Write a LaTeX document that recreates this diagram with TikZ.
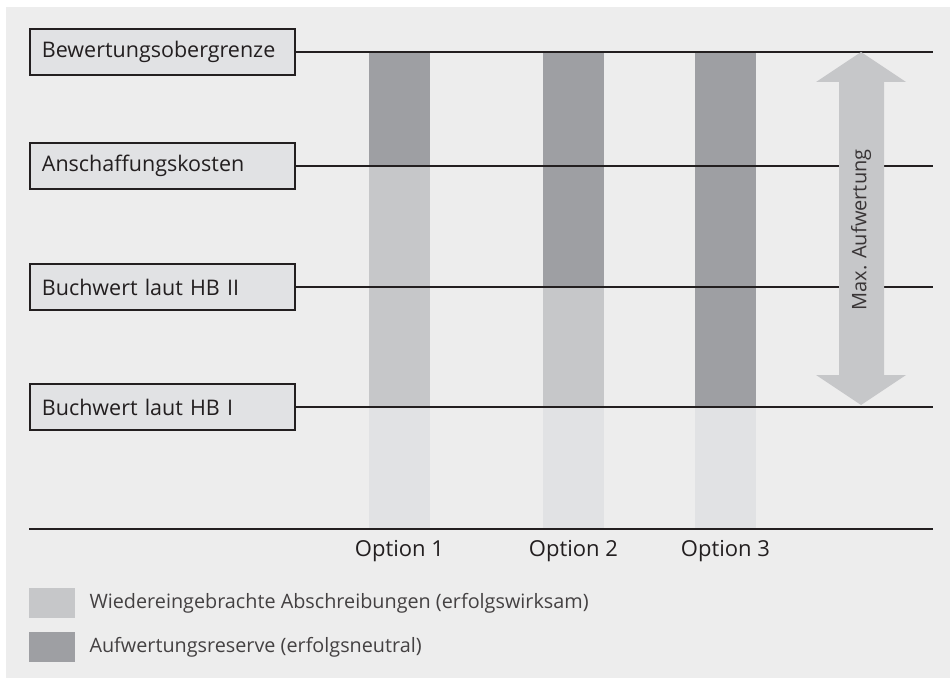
\documentclass[tikz,border=0pt]{standalone}
\usepackage{fontspec}
\setmainfont{Open Sans}
\definecolor{bg}{HTML}{EDEDED}
\definecolor{boxfill}{HTML}{E1E2E4}
\definecolor{darkbar}{HTML}{9E9FA3}
\definecolor{midbar}{HTML}{C6C7C9}
\definecolor{lightbar}{HTML}{E1E2E4}
\definecolor{ink}{HTML}{231F20}
\definecolor{txt}{HTML}{231F20}
\tikzset{
  lvlbox/.style={draw=ink, line width=1.8pt, fill=boxfill, anchor=west,
    minimum height=46pt, text width=241pt, inner xsep=12pt, inner ysep=0pt,
    align=left, font=\fontsize{21.5}{24}\selectfont, text=txt},
  lvlline/.style={draw=ink, line width=1.8pt},
  optlabel/.style={font=\fontsize{22}{24}\selectfont, text=txt},
  arrlabel/.style={font=\fontsize{20}{24}\selectfont, text=txt!90},
  legtext/.style={font=\fontsize{19.8}{24}\selectfont, text=txt!85, anchor=west},
}
\begin{document}
\begin{tikzpicture}[x=1pt,y=-1pt]
\useasboundingbox (0,0) rectangle (950,679);
\fill[white] (0,0) rectangle (950,679);
\fill[bg] (6,7) rectangle (950,678);
% bars
\fill[darkbar] (369,52) rectangle (430,166);
\fill[midbar] (369,166) rectangle (430,407);
\fill[lightbar] (369,407) rectangle (430,529);
\fill[darkbar] (543,52) rectangle (604,287);
\fill[midbar] (543,287) rectangle (604,407);
\fill[lightbar] (543,407) rectangle (604,529);
\fill[darkbar] (695,52) rectangle (756,407);
\fill[lightbar] (695,407) rectangle (756,529);
% boxes
\node[lvlbox] (b1) at (29,52) {Bewertungsobergrenze};
\node[lvlbox] (b2) at (29,166) {Anschaffungskosten};
\node[lvlbox] (b3) at (29,287) {Buchwert laut HB II};
\node[lvlbox] (b4) at (29,407) {Buchwert laut HB I};
\coordinate (e1) at (933,52);
\coordinate (e2) at (933,166);
\coordinate (e3) at (933,287);
\coordinate (e4) at (933,407);
\coordinate (a0) at (29,529);
\coordinate (a1) at (933,529);
\draw[lvlline] (b1.east) -- (e1);
\draw[lvlline] (b2.east) -- (e2);
\draw[lvlline] (b3.east) -- (e3);
\draw[lvlline] (b4.east) -- (e4);
\draw[lvlline] (a0) -- (a1);
% arrow
\fill[midbar] (861,52) -- (906,82) -- (884,82) -- (884,375) -- (906,375) -- (861,405)
  -- (816,375) -- (839,375) -- (839,82) -- (816,82) -- cycle;
\node[arrlabel, rotate=90] (maxa) at (861,230) {Max. Aufwertung};
% option labels
\node[optlabel] (o1) at (399.5,551) {Option 1};
\node[optlabel] (o2) at (573.5,551) {Option 2};
\node[optlabel] (o3) at (725.5,551) {Option 3};
% legend
\fill[midbar] (29,588) rectangle (75,618);
\fill[darkbar] (29,632) rectangle (75,662);
\node[legtext] (l1) at (86,603) {Wiedereingebrachte Abschreibungen (erfolgswirksam)};
\node[legtext] (l2) at (86,647) {Aufwertungsreserve (erfolgsneutral)};
\end{tikzpicture}
\end{document}
